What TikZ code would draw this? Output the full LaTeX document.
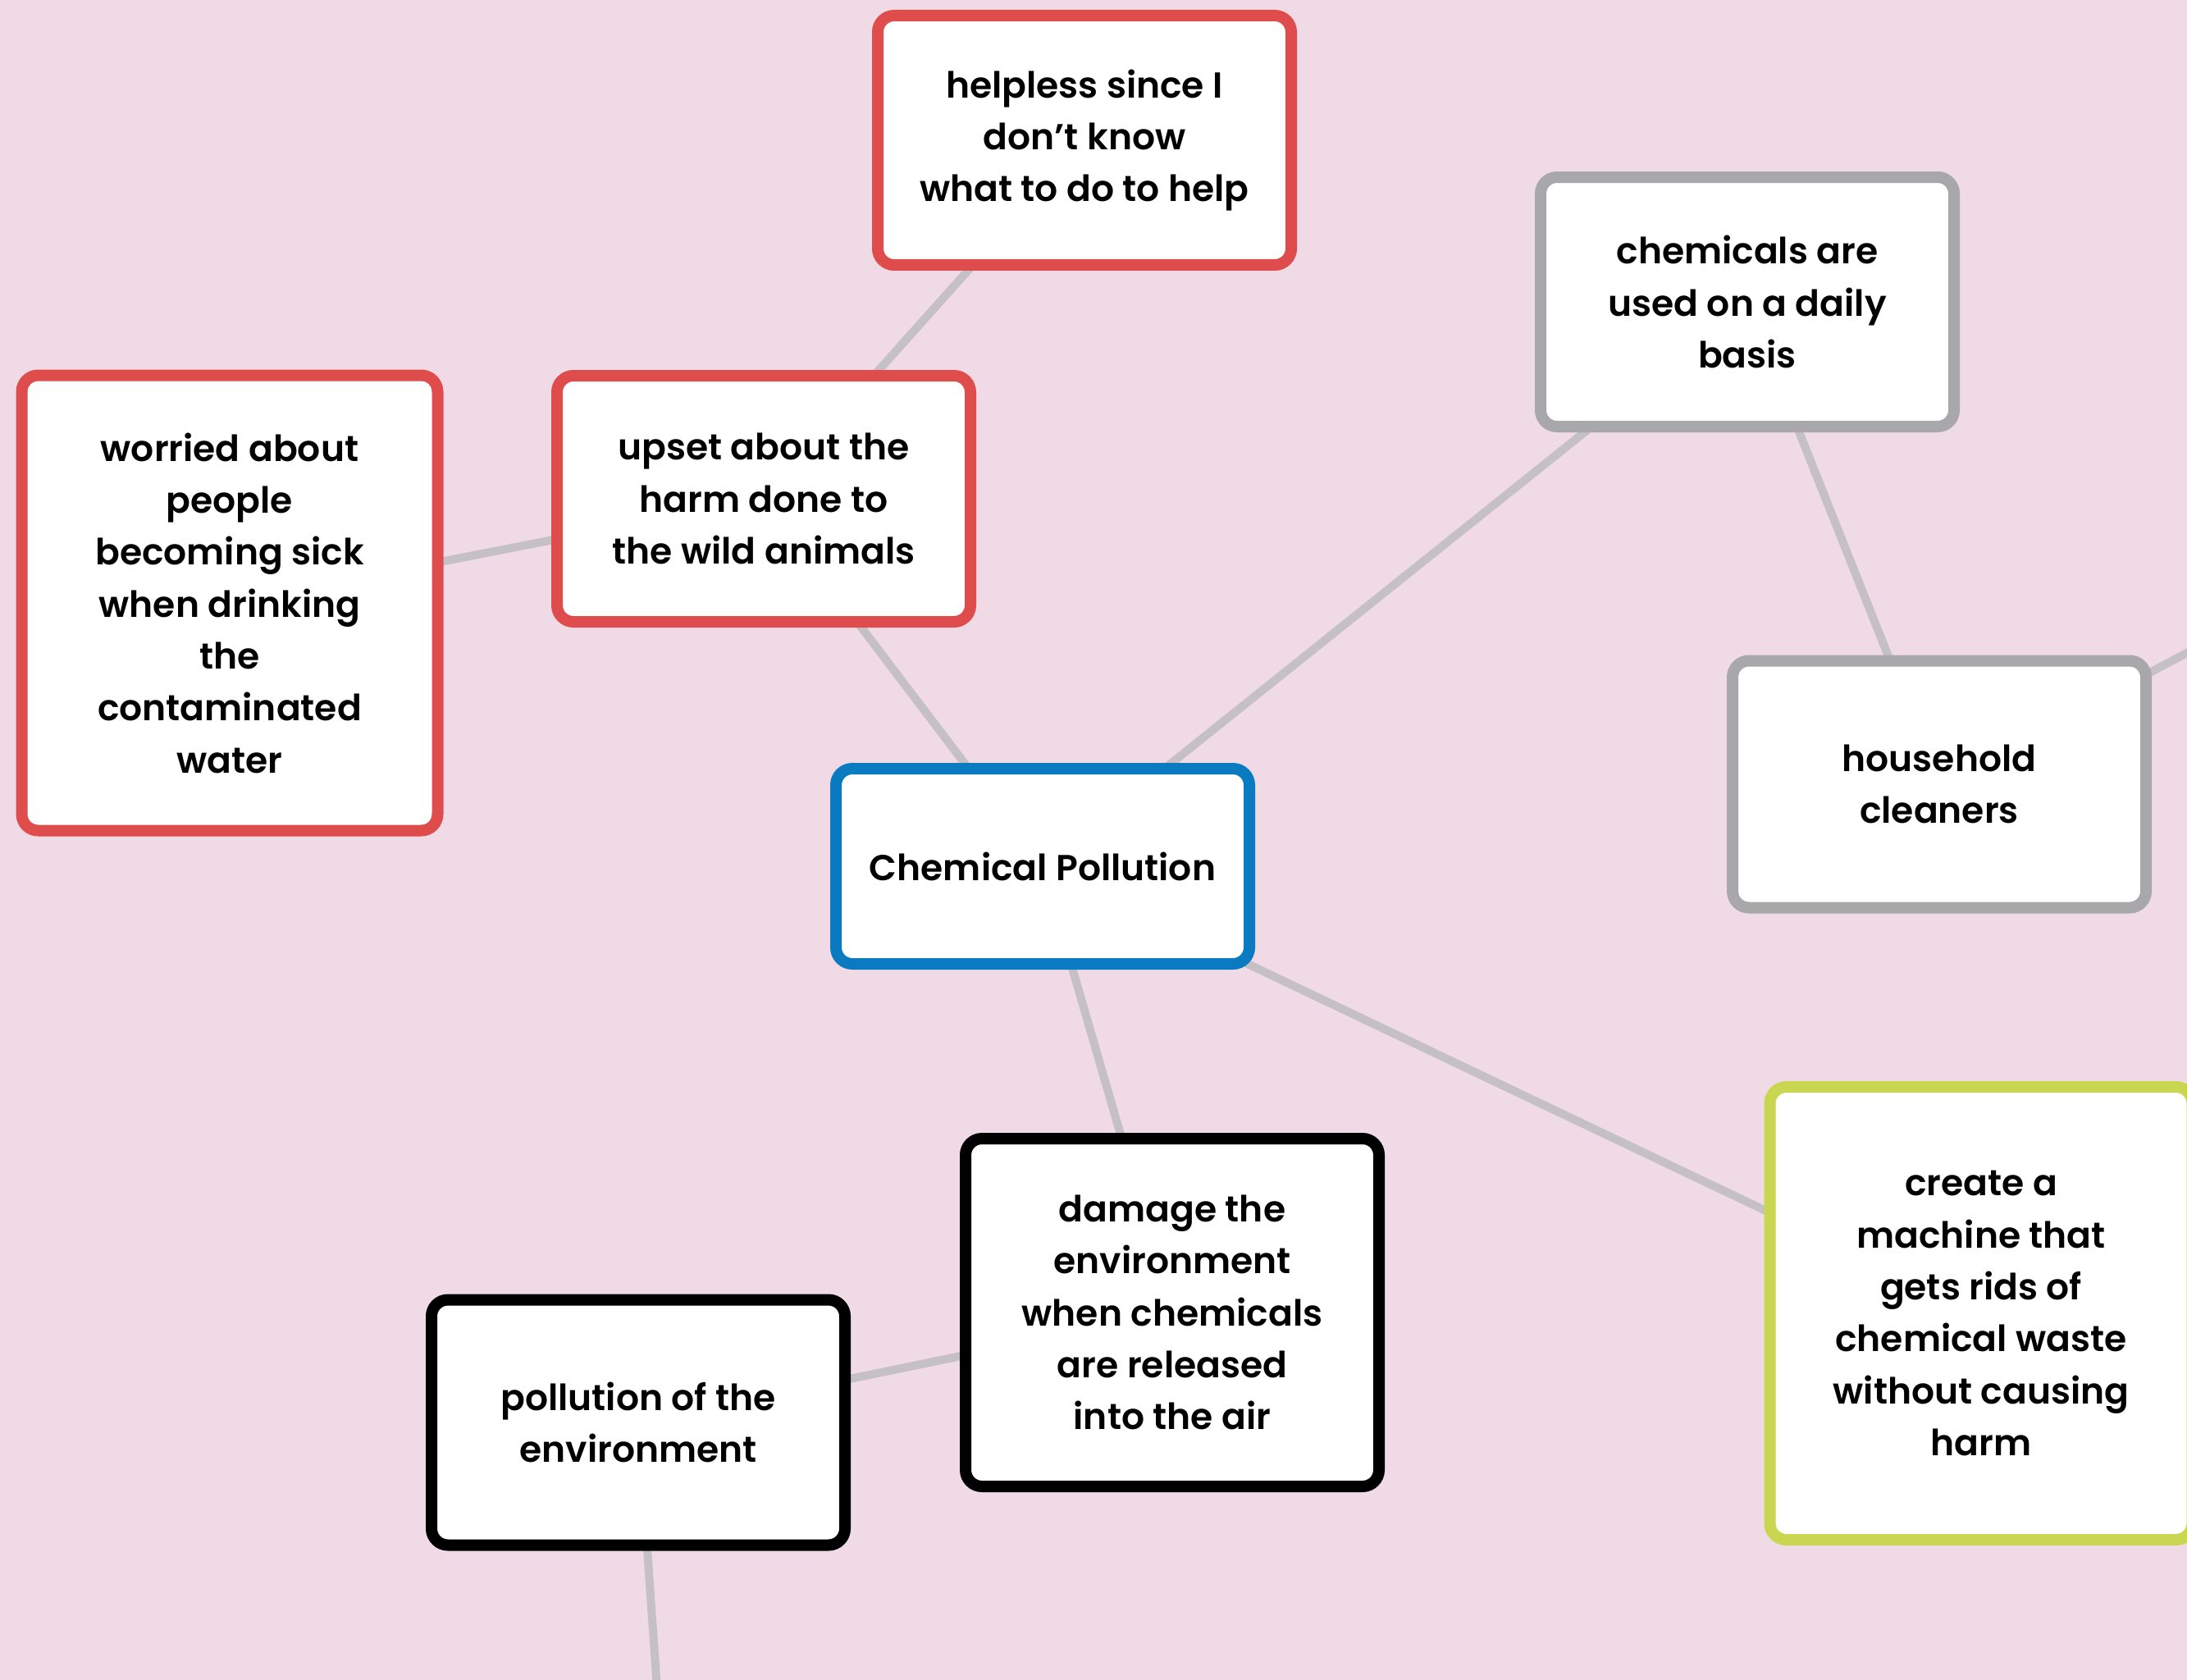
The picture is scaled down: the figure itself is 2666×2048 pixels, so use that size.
\documentclass[tikz,border=0pt]{standalone}
\usepackage{fontspec}
\setmainfont{Poppins}[BoldFont={* SemiBold}]
\pgfdeclarelayer{bg}
\pgfdeclarelayer{edges}
\pgfsetlayers{bg,edges,main}
\definecolor{pinkbg}{RGB}{239,218,229}
\definecolor{redb}{RGB}{222,76,76}
\definecolor{grayb}{RGB}{168,168,170}
\definecolor{blueb}{RGB}{10,123,192}
\definecolor{greenb}{RGB}{200,214,80}
\definecolor{linkc}{RGB}{196,192,196}
\tikzset{
  box/.style={draw, fill=white, rounded corners=6pt, line width=4.2pt, inner sep=0pt,
    align=center, minimum width=151.2pt, minimum height=91.2pt,
    font=\bfseries\fontsize{13.2}{19}\selectfont},
  redbox/.style={box, draw=redb},
  graybox/.style={box, draw=grayb},
  bluebox/.style={box, draw=blueb},
  blackbox/.style={box, draw=black},
  greenbox/.style={box, draw=greenb},
  link/.style={draw=linkc, line width=3pt}
}
\begin{document}
\begin{tikzpicture}[x=0.3pt, y=-0.3pt]
\useasboundingbox (0,0) rectangle (2666,2048);
\begin{pgfonlayer}{bg}
\fill[pinkbg] (0,0) rectangle (2666,2048);
\end{pgfonlayer}
\clip (0,0) rectangle (2666,2048);
\node[redbox] (helpless) at (1322,171) {helpless since I\\don't know\\what to do to help};
\node[graybox] (daily) at (2130,368) {chemicals are\\used on a daily\\basis};
\node[redbox, minimum height=90pt] (upset) at (931,608) {upset about the\\harm done to\\the wild animals};
\node[redbox, minimum width=152.1pt, minimum height=166.5pt] (worried) at (280,735) {worried about\\people\\becoming sick\\when drinking\\the\\contaminated\\water};
\node[bluebox, minimum height=71.4pt] (cp) at (1271,1056) {Chemical Pollution};
\node[graybox, minimum height=90.3pt] (house) at (2364,956) {household\\cleaners};
\node[blackbox, minimum height=127.2pt] (damage) at (1429,1600) {damage the\\environment\\when chemicals\\are released\\into the air};
\node[blackbox, minimum height=89.7pt] (pollenv) at (778,1734) {pollution of the\\environment};
\node[greenbox, minimum width=154.5pt, minimum height=165.6pt] (create) at (2415,1601) {create a\\machine that\\gets rids of\\chemical waste\\without causing\\harm};
\coordinate (offright) at (2760,746);
\coordinate (offbottom) at (804,2100);
\begin{pgfonlayer}{edges}
\draw[link] (helpless.center) -- (upset.center);
\draw[link] (upset.center) -- (worried.center);
\draw[link] (upset.center) -- (cp.center);
\draw[link] (cp.center) -- (daily.center);
\draw[link] (daily.center) -- (house.center);
\draw[link] (house.center) -- (offright);
\draw[link] (cp.center) -- (damage.center);
\draw[link] (cp.center) -- (create.center);
\draw[link] (damage.center) -- (pollenv.center);
\draw[link] (pollenv.center) -- (offbottom);
\end{pgfonlayer}
\end{tikzpicture}
\end{document}
